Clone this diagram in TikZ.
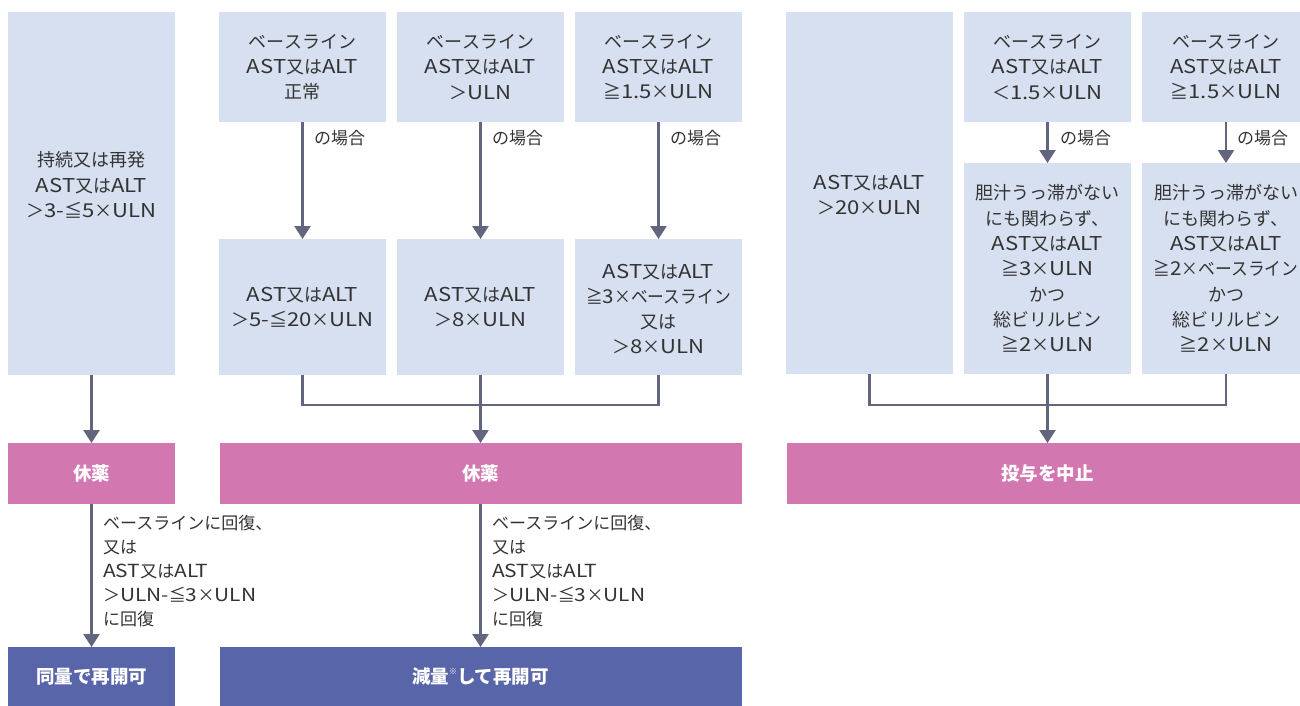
\documentclass[tikz,border=0pt]{standalone}
\usepackage{fontspec}
\usepackage{graphicx}
\setmainfont{Noto Sans CJK JP}
\newfontfamily\latfont{Noto Sans CJK JP}[Scale=1.06,FakeStretch=1.16]
\newcommand\E[1]{{\latfont #1}}
\newcommand\astalt{\E{AST}又は\E{ALT}}
\newcommand\uln{\E{ULN}}
\newcommand\squeeze[1]{\scalebox{0.93}[1]{#1}}
\usetikzlibrary{arrows.meta}
\definecolor{boxfill}{HTML}{D7E0F0}
\definecolor{pinkfill}{HTML}{D277AF}
\definecolor{bluefill}{HTML}{5865A9}
\definecolor{arrowc}{HTML}{62657E}
\definecolor{txt}{HTML}{333333}
\tikzset{
  panel/.style={fill=boxfill, draw=none, inner sep=0pt, outer sep=0pt, anchor=north west},
  pinkpanel/.style={fill=pinkfill, draw=none, inner sep=0pt, outer sep=0pt, anchor=north west},
  bluepanel/.style={fill=bluefill, draw=none, inner sep=0pt, outer sep=0pt, anchor=north west},
  boxtext/.style={align=center, inner sep=0pt, text=txt, font=\fontsize{18}{25.3}\selectfont},
  whitetext/.style={inner sep=0pt, text=white, font=\fontsize{18.5}{22}\selectfont\bfseries},
  cond/.style={inner sep=0pt, anchor=west, text=txt, font=\fontsize{17}{22}\selectfont},
  recov/.style={inner sep=0pt, anchor=north west, align=left, text=txt, font=\fontsize{17}{24}\selectfont},
  ln/.style={draw=arrowc, line width=2.6pt},
  arr/.style={ln, -{Triangle[width=16pt,length=13pt]}}
}
\begin{document}
\begin{tikzpicture}[x=1pt,y=-1pt]
\useasboundingbox (0,0) rectangle (1300,705);
\begin{scope}
\clip (0,0) rectangle (1300,705);
% left column
\node[panel, minimum width=167pt, minimum height=363pt] (L1) at (8,12) {};
\node[boxtext] (L1t) at (91.5,185) {持続又は再発\\\astalt\\＞\E{3-}≦\E{5}×\uln};
% middle group top
\node[panel, minimum width=167pt, minimum height=110pt] (c2a) at (219,12) {};
\node[boxtext] (c2at) at (c2a.center) {ベースライン\\\astalt\\正常};
\node[panel, minimum width=167pt, minimum height=110pt] (c3a) at (397,12) {};
\node[boxtext] (c3at) at (c3a.center) {ベースライン\\\astalt\\＞\uln};
\node[panel, minimum width=167pt, minimum height=110pt] (c4a) at (575,12) {};
\node[boxtext] (c4at) at (c4a.center) {ベースライン\\\astalt\\≧\E{1.5}×\uln};
% middle group bottom
\node[panel, minimum width=167pt, minimum height=136pt] (c2b) at (219,239) {};
\node[boxtext] (c2bt) at (c2b.center) {\astalt\\＞\E{5-}≦\E{20}×\uln};
\node[panel, minimum width=167pt, minimum height=136pt] (c3b) at (397,239) {};
\node[boxtext] (c3bt) at (c3b.center) {\astalt\\＞\E{8}×\uln};
\node[panel, minimum width=167pt, minimum height=136pt] (c4b) at (575,239) {};
\node[boxtext] (c4bt) at ([yshift=-2pt]c4b.center) {\astalt\\\squeeze{≧\E{3}×ベースライン}\\又は\\＞\E{8}×\uln};
% right group
\node[panel, minimum width=167pt, minimum height=362pt] (c5) at (786,12) {};
\node[boxtext] (c5t) at (869.5,195) {\astalt\\＞\E{20}×\uln};
\node[panel, minimum width=167pt, minimum height=110pt] (c6a) at (964,12) {};
\node[boxtext] (c6at) at (c6a.center) {ベースライン\\\astalt\\＜\E{1.5}×\uln};
\node[panel, minimum width=168pt, minimum height=110pt] (c7a) at (1142,12) {};
\node[boxtext] (c7at) at (c7a.center) {ベースライン\\\astalt\\≧\E{1.5}×\uln};
\node[panel, minimum width=167pt, minimum height=211pt] (c6b) at (964,163) {};
\node[boxtext] (c6bt) at (c6b.center) {胆汁うっ滞がない\\にも関わらず、\\\astalt\\≧\E{3}×\uln\\かつ\\総ビリルビン\\≧\E{2}×\uln};
\node[panel, minimum width=168pt, minimum height=211pt] (c7b) at (1142,163) {};
\node[boxtext] (c7bt) at (c7b.center) {胆汁うっ滞がない\\にも関わらず、\\\astalt\\\squeeze{≧\E{2}×ベースライン}\\かつ\\総ビリルビン\\≧\E{2}×\uln};
% pink
\node[pinkpanel, minimum width=167pt, minimum height=61pt] (P1) at (8,443) {};
\node[whitetext] (P1t) at (P1.center) {休薬};
\node[pinkpanel, minimum width=522pt, minimum height=61pt] (P2) at (220,443) {};
\node[whitetext] (P2t) at (480.5,473.5) {休薬};
\node[pinkpanel, minimum width=520pt, minimum height=61pt] (P3) at (787,443) {};
\node[whitetext] (P3t) at (1047.5,473.5) {投与を中止};
% blue
\node[bluepanel, minimum width=167pt, minimum height=60pt] (B1) at (8,647) {};
\node[whitetext] (B1t) at (B1.center) {同量で再開可};
\node[bluepanel, minimum width=522pt, minimum height=60pt] (B2) at (220,647) {};
\node[whitetext] (B2t) at (480.5,676) {減量\raisebox{0.45em}{\fontsize{8}{8}\selectfont ※}して再開可};
\end{scope}
% condition labels
\node[cond] (l2) at (314,138) {の場合};
\node[cond] (l3) at (492,138) {の場合};
\node[cond] (l4) at (670,138) {の場合};
\node[cond] (l6) at (1060,138) {の場合};
\node[cond] (l7) at (1237,138) {の場合};
% connectors
\draw[arr] (c2a.south) -- (c2b.north);
\draw[arr] (c3a.south) -- (c3b.north);
\draw[arr] (c4a.south) -- (c4b.north);
\draw[arr] (c6a.south) -- (c6b.north);
\draw[arr] (c7a.south) -- (c7b.north);
\draw[arr] (L1.south) -- (P1.north);
\coordinate (m1) at (480.5,405);
\draw[ln] (c2b.south) |- (m1) -| (c4b.south);
\draw[ln] (c3b.south) -- (m1);
\draw[arr] (m1) -- (P2.north -| m1);
\coordinate (m2) at (1047.5,405);
\draw[ln] (c5.south) |- (m2) -| (c7b.south);
\draw[ln] (c6b.south) -- (m2);
\draw[arr] (m2) -- (P3.north -| m2);
\draw[arr] (P1.south) -- (B1.north);
\draw[arr] (P2.south -| m1) -- (B2.north -| m1);
% recovery labels
\node[recov] (r1) at (103,515) {ベースラインに回復、\\又は\\\astalt\\＞\uln\E{-}≦\E{3}×\uln\\に回復};
\node[recov] (r2) at (492,515) {ベースラインに回復、\\又は\\\astalt\\＞\uln\E{-}≦\E{3}×\uln\\に回復};
\end{tikzpicture}
\end{document}
